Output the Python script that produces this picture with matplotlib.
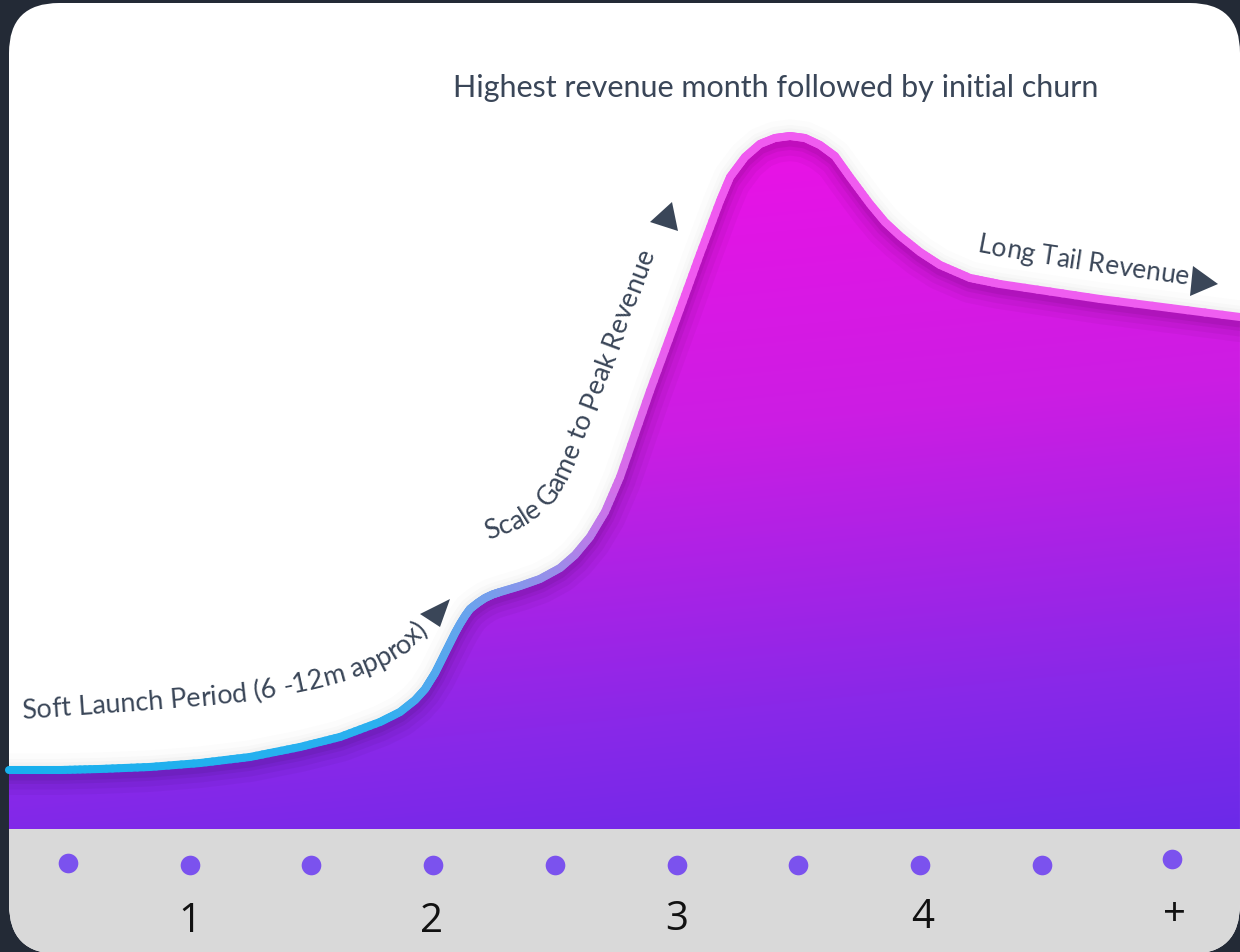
import numpy as np
import matplotlib
matplotlib.use("Agg")
import matplotlib.pyplot as plt
from matplotlib.patches import FancyBboxPatch, Rectangle, Polygon
from matplotlib.collections import LineCollection
from matplotlib.colors import LinearSegmentedColormap
from matplotlib import font_manager

# revenue curve: x = period slot (one slot per dot), y = revenue as % of peak month
period = [-0.485, -0.066, 0.263, 0.674, 1.085, 1.495, 1.906, 2.235, 2.564, 2.728,
          2.852, 2.934, 2.975, 3.016, 3.057, 3.098, 3.139, 3.180, 3.221, 3.262,
          3.303, 3.365, 3.426, 3.488, 3.550, 3.714, 3.878, 4.043, 4.166, 4.289,
          4.412, 4.536, 4.782, 5.029, 5.193, 5.357, 5.440, 5.563, 5.686, 5.809,
          5.933, 6.056, 6.179, 6.302, 6.425, 6.590, 6.713, 6.837, 7.001, 7.165,
          7.412, 7.658, 8.480, 9.630]
revenue = [8.51, 8.51, 8.66, 8.95, 9.52, 10.39, 11.83, 13.28, 15.44, 16.88,
           18.61, 20.20, 21.36, 22.51, 23.95, 25.40, 26.84, 28.28, 29.58, 30.74,
           31.75, 32.61, 33.33, 33.84, 34.20, 35.06, 36.08, 37.66, 39.54, 42.14,
           45.74, 50.79, 63.20, 75.04, 82.97, 90.62, 94.08, 96.97, 98.85, 99.71,
           100.0, 99.71, 98.70, 97.11, 94.08, 90.19, 87.59, 85.57, 83.26, 81.39,
           79.51, 78.64, 76.48, 73.88]

dot_x = [0, 1, 2, 3, 4, 5, 6, 7, 8, 9.07]
dot_y = [-4.9, -5.2, -5.2, -5.2, -5.2, -5.2, -5.2, -5.2, -5.2, -4.3]

tick_x = [1.0, 2.99, 5.0, 7.02, 9.09]
tick_y = [-13.2, -13.2, -12.9, -12.6, -12.4]
tick_labels = ["1", "2", "3", "4", "+"]

title_text = "Highest revenue month followed by initial churn"
phase_labels = ["Soft Launch Period (6 -12m approx)", "Scale Game to Peak Revenue", "Long Tail Revenue"]

W, H = 1240, 953
TXT = "#3a4658"

fig = plt.figure(figsize=(W / 100, H / 100), dpi=100)
fig.patch.set_facecolor("#232a36")

# background card, pixel frame
ax_bg = fig.add_axes([0, 0, 1, 1], zorder=0)
ax_bg.set_xlim(0, W)
ax_bg.set_ylim(H, 0)
ax_bg.axis("off")
card = FancyBboxPatch((9, 4), W - 9, H + 2 - 4, boxstyle="round,pad=0,rounding_size=50",
                      fc="white", ec="none")
ax_bg.add_patch(card)
band = Rectangle((0, 830), W, 200, fc="#d9d9d9", ec="none")
ax_bg.add_patch(band)
band.set_clip_path(card)

# chart axes: slot units horizontally, % of peak vertically
ax = fig.add_axes([0, 0, 1, 1], zorder=1)
ax.patch.set_alpha(0)
x0, x1 = (0 - 68) / 121.7, (W - 68) / 121.7
y0, y1 = (830 - H) / 6.93, 830 / 6.93
ax.set_xlim(x0, x1)
ax.set_ylim(y0, y1)
ax.axis("off")

px = np.array(period)
rv = np.array(revenue)

# soft glow on the white side
for lw, a in [(24, 0.012), (16, 0.015), (11, 0.02)]:
    ax.plot(px, rv, color="black", alpha=a, lw=lw, solid_capstyle="butt", zorder=1)

# gradient fill under the curve
poly = Polygon(np.column_stack([np.r_[px, px[-1], px[0]], np.r_[rv, 0, 0]]),
               closed=True, fc="none", ec="none", transform=ax.transData)
ax.add_patch(poly)
X, Y = np.meshgrid(np.arange(W), np.arange(H))
t = np.clip(0.85 * (Y - 140) / 690 + 0.15 * X / W - 0.09, 0, 1)
fill_cmap = LinearSegmentedColormap.from_list(
    "fill", [(0, "#ea12e6"), (0.35, "#cc1de3"), (0.7, "#8a28e8"), (1, "#5e2ae8")])
im = ax.imshow(fill_cmap(t), extent=[x0, x1, y0, y1], origin="upper",
               aspect="auto", zorder=2, interpolation="bilinear")
im.set_clip_path(poly)

# inner shadow under the line
for lw, a in [(30, 0.03), (22, 0.04), (14, 0.05), (9, 0.06)]:
    sh, = ax.plot(px, rv - 0.6, color="black", alpha=a, lw=lw, zorder=3)
    sh.set_clip_path(poly)

# gradient stroke
sub = 8
xs, ys = [], []
for i in range(len(px) - 1):
    f = np.linspace(0, 1, sub, endpoint=False)
    xs.append(px[i] + (px[i + 1] - px[i]) * f)
    ys.append(rv[i] + (rv[i + 1] - rv[i]) * f)
xs = np.r_[np.concatenate(xs), px[-1]]
ys = np.r_[np.concatenate(ys), rv[-1]]
pts = np.column_stack([xs, ys]).reshape(-1, 1, 2)
segs = np.concatenate([pts[:-1], pts[1:]], axis=1)
line_cmap = LinearSegmentedColormap.from_list(
    "line", [(0, "#17b0ee"), (0.306, "#2bb0ef"), (0.379, "#6aa3ed"), (0.451, "#9a8ce9"),
             (0.5, "#d46ee9"), (0.548, "#f05af0"), (1, "#ef5ef0")])
mid = (xs[:-1] + xs[1:]) / 2
lc = LineCollection(segs, colors=line_cmap((mid - x0) / (x1 - x0)), linewidths=5.8,
                    capstyle="round", joinstyle="round", zorder=4)
ax.add_collection(lc)

# period dots and labels
ax.scatter(dot_x, dot_y, s=200, color="#7b52ee", linewidths=0, zorder=5)
for tx, ty, lab in zip(tick_x, tick_y, tick_labels):
    ax.text(tx, ty, lab, ha="center", va="center", fontsize=29, color="#111111",
            family="Open Sans", zorder=6)

# annotation layer, pixel frame
ax_top = fig.add_axes([0, 0, 1, 1], zorder=2)
ax_top.patch.set_alpha(0)
ax_top.set_xlim(0, W)
ax_top.set_ylim(H, 0)
ax_top.axis("off")

ax_top.text(453, 97, title_text, ha="left", va="baseline", fontsize=22,
            family="Lato", color=TXT)


def text_on_path(s, guide, size):
    prop = font_manager.FontProperties(family="Lato", size=size)
    font = font_manager.get_font(font_manager.findfont(prop))
    font.set_size(size, fig.dpi)
    adv = [font.load_char(ord(c)).linearHoriAdvance / 65536 for c in s]
    g = np.asarray(guide, float)
    seglen = np.hypot(*np.diff(g, axis=0).T)
    cum = np.r_[0, np.cumsum(seglen)]

    def at(d):
        return np.interp(d, cum, g[:, 0]), np.interp(d, cum, g[:, 1])

    pos = 0.0
    for c, a in zip(s, adv):
        m = pos + a / 2
        x, y = at(m)
        xa, ya = at(m - a / 2 - 3)
        xb, yb = at(m + a / 2 + 3)
        ang = np.degrees(np.arctan2(-(yb - ya), xb - xa))
        ax_top.text(x, y, c, rotation=ang, rotation_mode="anchor", ha="center",
                    va="baseline", fontproperties=prop, color=TXT)
        pos += a


text_on_path(phase_labels[0],
             [(22, 719), (140, 711), (245, 702), (300, 692), (345, 681), (385, 665),
              (410, 650), (432, 628), (450, 600)], 19.5)
text_on_path(phase_labels[1],
             [(488, 540), (520, 528), (545, 512), (560, 494), (575, 462), (600, 398),
              (630, 318), (670, 215)], 19.5)
text_on_path(phase_labels[2],
             [(977, 252), (1030, 262), (1090, 271), (1190, 285)], 19)

for tri in [[(420, 615), (450, 600), (440, 628)],
            [(650, 223), (672, 203), (678, 232)],
            [(1193, 267), (1218, 285), (1190, 297)]]:
    ax_top.add_patch(Polygon(tri, closed=True, fc=TXT, ec="none"))

fig.savefig("out.png", dpi=100, facecolor=fig.get_facecolor())
